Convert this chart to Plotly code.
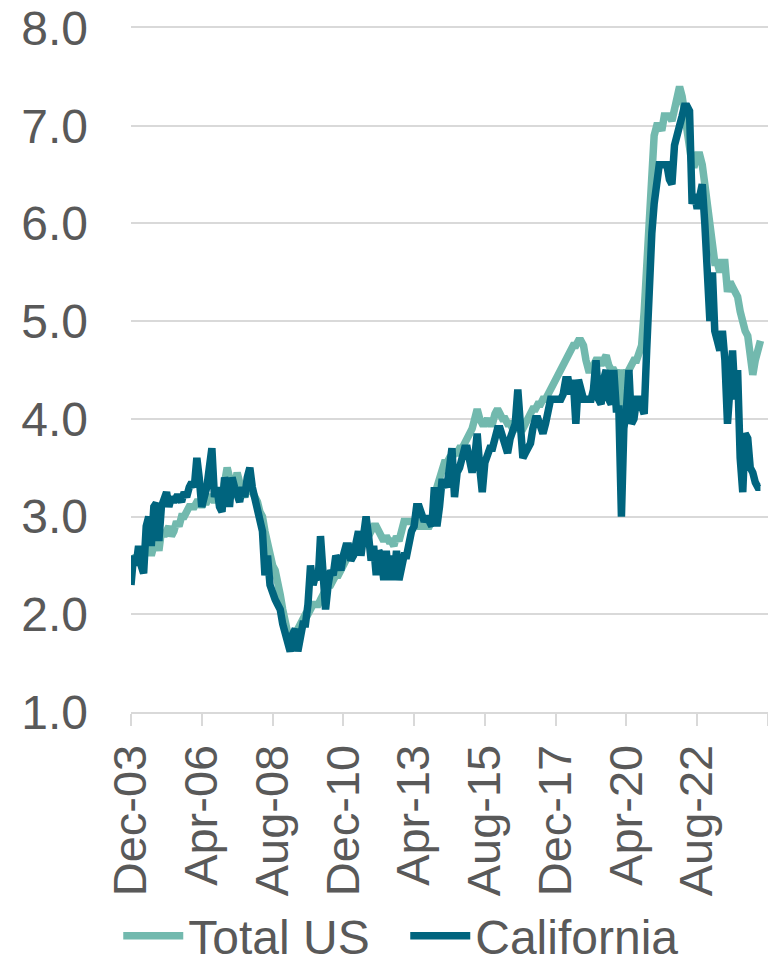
import pandas as pd
import plotly.graph_objects as go

# monthly values, Dec-03 .. Sep-24
total_us = (
    [2.5]
    + [2.55, 2.6, 2.55, 2.6, 2.6, 2.65, 2.7, 2.6, 2.75, 2.8, 2.65, 2.85]  # 2004
    + [2.8, 2.85, 2.9, 2.8, 2.85, 2.95, 2.9, 3.0, 3.0, 3.05, 3.1, 3.1]  # 2005
    + [3.1, 3.15, 3.15, 3.1, 3.15, 3.15, 3.2, 3.2, 3.15, 3.2, 3.15, 3.2]  # 2006
    + [3.35, 3.5, 3.4, 3.35, 3.3, 3.45, 3.3, 3.25, 3.2, 3.3, 3.3, 3.25]  # 2007
    + [3.2, 3.15, 3.05, 3.0, 2.85, 2.7, 2.6, 2.5, 2.45, 2.35, 2.2, 2.05]  # 2008
    + [1.9, 1.8, 1.75, 1.75, 1.8, 1.85, 1.9, 1.95, 2.0, 2.0, 2.05, 2.1]  # 2009
    + [2.1, 2.1, 2.15, 2.2, 2.25, 2.3, 2.3, 2.35, 2.4, 2.4, 2.45, 2.5]  # 2010
    + [2.55, 2.6, 2.65, 2.6, 2.65, 2.7, 2.7, 2.75, 2.8, 2.8, 2.85, 2.9]  # 2011
    + [2.9, 2.85, 2.8, 2.75, 2.8, 2.75, 2.75, 2.7, 2.8, 2.75, 2.85, 2.95]  # 2012
    + [2.95, 2.95, 2.95, 2.95, 2.95, 2.9, 2.9, 2.9, 2.9, 2.9, 2.95, 3.05]  # 2013
    + [3.3, 3.4, 3.5, 3.55, 3.55, 3.6, 3.6, 3.65, 3.65, 3.7, 3.7, 3.75]  # 2014
    + [3.8, 3.85, 3.9, 4.0, 4.1, 4.0, 3.95, 3.95, 4.0, 3.95, 3.95, 4.05]  # 2015
    + [4.1, 4.05, 4.0, 4.0, 3.95, 3.95, 3.9, 3.9, 3.9, 3.9, 3.9, 3.95]  # 2016
    + [4.0, 4.05, 4.1, 4.1, 4.15, 4.15, 4.2, 4.2, 4.25, 4.3, 4.35, 4.4]  # 2017
    + [4.45, 4.5, 4.55, 4.6, 4.65, 4.7, 4.75, 4.75, 4.8, 4.8, 4.75, 4.6]  # 2018
    + [4.5, 4.5, 4.55, 4.6, 4.6, 4.55, 4.6, 4.65, 4.55, 4.5, 4.5, 4.45]  # 2019
    + [4.5, 4.0, 4.5, 4.45, 4.5, 4.55, 4.6, 4.6, 4.7, 4.75, 5.1, 5.6]  # 2020
    + [6.2, 6.6, 6.9, 7.0, 7.0, 6.95, 7.1, 7.1, 7.1, 7.05, 7.2, 7.3]  # 2021
    + [7.4, 7.3, 7.15, 7.0, 6.85, 6.6, 6.6, 6.7, 6.7, 6.6, 6.4, 6.2]  # 2022
    + [6.0, 5.8, 5.6, 5.6, 5.5, 5.6, 5.6, 5.3, 5.4, 5.35, 5.3, 5.25]  # 2023
    + [5.1, 4.95, 4.9, 4.85, 4.7, 4.45, 4.6, 4.7, 4.8]  # 2024
)

california = (
    [2.3]
    + [2.6, 2.5, 2.7, 2.5, 2.42, 2.9, 3.0, 2.7, 3.1, 3.14, 2.75, 3.1]  # 2004
    + [3.2, 3.25, 3.1, 3.2, 3.15, 3.2, 3.2, 3.15, 3.25, 3.2, 3.3, 3.35]  # 2005
    + [3.3, 3.6, 3.4, 3.1, 3.2, 3.3, 3.5, 3.7, 3.2, 3.3, 3.1, 3.05]  # 2006
    + [3.4, 3.3, 3.1, 3.4, 3.3, 3.2, 3.15, 3.3, 3.2, 3.4, 3.5, 3.3]  # 2007
    + [3.2, 3.1, 3.0, 2.85, 2.4, 2.6, 2.3, 2.2, 2.15, 2.1, 2.05, 1.9]  # 2008
    + [1.8, 1.7, 1.62, 1.8, 1.85, 1.62, 1.75, 1.9, 1.9, 2.1, 2.5, 2.3]  # 2009
    + [2.4, 2.35, 2.8, 2.4, 2.05, 2.3, 2.45, 2.4, 2.6, 2.55, 2.45, 2.6]  # 2010
    + [2.7, 2.7, 2.55, 2.6, 2.7, 2.85, 2.6, 2.75, 3.0, 2.8, 2.55, 2.7]  # 2011
    + [2.4, 2.65, 2.6, 2.35, 2.65, 2.35, 2.6, 2.35, 2.65, 2.35, 2.5, 2.6]  # 2012
    + [2.6, 2.75, 2.85, 2.9, 3.1, 3.1, 3.0, 2.95, 3.0, 2.95, 2.9, 3.3]  # 2013
    + [2.9, 3.1, 3.35, 3.35, 3.3, 3.5, 3.7, 3.2, 3.45, 3.5, 3.6, 3.7]  # 2014
    + [3.7, 3.55, 3.45, 3.6, 3.85, 3.5, 3.25, 3.55, 3.65, 3.7, 3.7, 3.8]  # 2015
    + [3.9, 3.9, 3.8, 3.7, 3.65, 3.8, 3.9, 3.95, 4.3, 3.9, 3.6, 3.65]  # 2016
    + [3.7, 3.75, 3.9, 4.0, 4.0, 3.9, 3.85, 3.95, 4.1, 4.2, 4.2, 4.2]  # 2017
    + [4.2, 4.2, 4.25, 4.4, 4.4, 4.25, 4.4, 3.95, 4.4, 4.3, 4.2, 4.2]  # 2018
    + [4.2, 4.2, 4.3, 4.6, 4.2, 4.15, 4.4, 4.5, 4.2, 4.15, 4.5, 4.1]  # 2019
    + [4.1, 3.0, 3.9, 4.1, 4.5, 3.95, 4.0, 4.2, 4.2, 4.1, 4.05, 4.7]  # 2020
    + [5.4, 5.9, 6.2, 6.4, 6.6, 6.6, 6.6, 6.6, 6.45, 6.4, 6.8, 6.95]  # 2021
    + [7.0, 7.1, 7.2, 7.2, 7.15, 6.2, 6.3, 6.15, 6.3, 6.4, 6.0, 5.5]  # 2022
    + [5.0, 5.5, 4.9, 4.8, 4.7, 4.9, 4.6, 3.95, 4.3, 4.7, 4.2, 4.5]  # 2023
    + [3.6, 3.25, 3.85, 3.8, 3.5, 3.45, 3.35, 3.3, 3.3]  # 2024
)

dates = pd.date_range("2003-12-01", periods=len(total_us), freq="MS")

tick_dates = ["2003-12-01", "2006-04-01", "2008-08-01", "2010-12-01", "2013-04-01",
              "2015-08-01", "2017-12-01", "2020-04-01", "2022-08-01", "2024-12-01"]
tick_labels = ["Dec-03", "Apr-06", "Aug-08", "Dec-10", "Apr-13",
               "Aug-15", "Dec-17", "Apr-20", "Aug-22", ""]

grey = "#595959"
grid = "#d9d9d9"

fig = go.Figure()
fig.add_trace(go.Scatter(x=dates, y=total_us, name="Total US", mode="lines",
                         line=dict(color="#72b9ae", width=7.5)))
fig.add_trace(go.Scatter(x=dates, y=california, name="California", mode="lines",
                         line=dict(color="#00647e", width=7.5)))

# page body has an 8px margin, so the figure is sized to fit inside it
fig.update_layout(
    width=768, height=956,
    margin=dict(l=123, r=8, t=20, b=252, autoexpand=False),
    paper_bgcolor="white", plot_bgcolor="white",
    font=dict(family="Liberation Sans, Arial, sans-serif", size=48, color=grey),
    showlegend=True,
    legend=dict(orientation="h", x=-0.02, xanchor="left", y=-0.272, yanchor="top",
                itemwidth=60, entrywidth=212, font=dict(size=48, color=grey),
                bgcolor="rgba(0,0,0,0)", tracegroupgap=0),
    xaxis=dict(
        type="date", range=["2003-12-01", "2024-12-01"],
        tickmode="array", tickvals=tick_dates, ticktext=tick_labels,
        tickangle=-90, showgrid=False, showline=True, mirror=True,
        linecolor=grid, linewidth=2,
        ticks="outside", ticklen=12, tickwidth=2, tickcolor=grid,
        ticklabelstandoff=0, zeroline=False, automargin=False,
        tickfont=dict(size=47),
    ),
    yaxis=dict(
        range=[1, 8], dtick=1, tick0=1, tickformat=".1f",
        showgrid=True, gridcolor=grid, gridwidth=2, zeroline=False,
        showline=False, ticks="", ticklabelstandoff=42, automargin=False,
        ticklabeloverflow="allow",
    ),
)

fig.write_html("out.html")
